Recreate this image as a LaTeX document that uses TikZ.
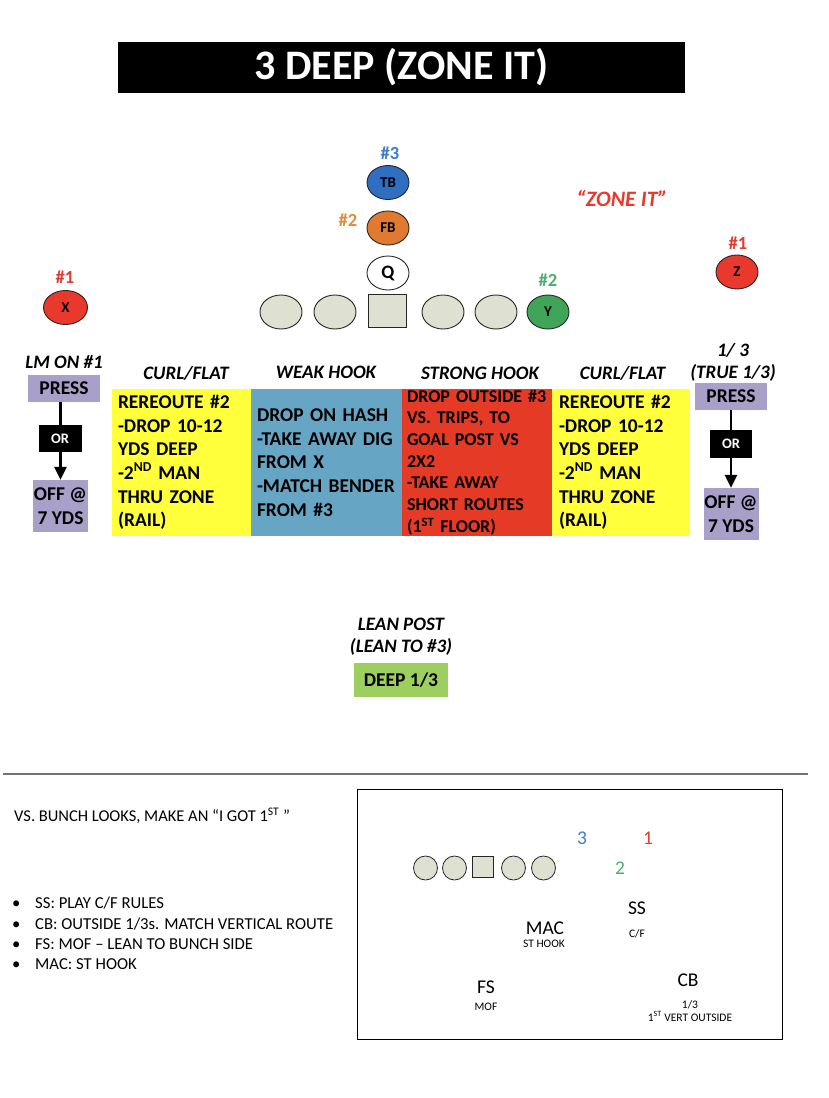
\documentclass[tikz,border=0pt]{standalone}
\usepackage{fontspec}
\setmainfont{Carlito}
\usetikzlibrary{shapes.geometric,arrows.meta}
\definecolor{linegray}{RGB}{222,224,210}
\definecolor{pred}{RGB}{232,57,44}
\definecolor{pblue}{RGB}{47,110,192}
\definecolor{porange}{RGB}{224,122,48}
\definecolor{pgreen}{RGB}{64,165,88}
\definecolor{lblblue}{RGB}{61,124,201}
\definecolor{lblorange}{RGB}{224,138,60}
\definecolor{lblgreen}{RGB}{76,175,106}
\definecolor{lblred}{RGB}{224,60,50}
\definecolor{zyellow}{RGB}{255,255,60}
\definecolor{zblue}{RGB}{102,166,196}
\definecolor{zred}{RGB}{229,58,38}
\definecolor{purplebg}{RGB}{168,160,200}
\definecolor{deepgreen}{RGB}{156,207,95}
\newcommand\myfs[2]{\fontsize{#1}{#2}\selectfont}
\begin{document}
\begin{tikzpicture}[x=1pt,y=-1pt,
  player/.style={ellipse, draw=black!85, line width=0.9pt, minimum width=42pt, minimum height=34pt, inner sep=0pt, font=\myfs{15}{17}\bfseries},
  lineman/.style={player, fill=linegray},
  csquare/.style={rectangle, draw=black!85, line width=0.9pt, fill=linegray, minimum width=38pt, minimum height=33pt, inner sep=0pt},
  numlbl/.style={font=\myfs{18.5}{21}\bfseries},
  heading/.style={font=\myfs{19}{22}\bfseries\itshape, align=center, inner sep=0pt},
  zone/.style={rectangle, inner ysep=0pt, minimum height=147pt, align=left, font=\myfs{19.5}{23.6}\bfseries},
  purplebox/.style={fill=purplebg, font=\myfs{19.5}{24}\bfseries, align=center, inner sep=0pt},
  orbox/.style={fill=black, text=white, font=\myfs{14.5}{16}\bfseries, inner sep=0pt},
  arr/.style={line width=2.5pt, -{Triangle[width=12pt,length=13pt]}},
  minip/.style={circle, draw=black!85, line width=0.8pt, fill=linegray, minimum size=24pt, inner sep=0pt},
  minisq/.style={rectangle, draw=black!85, line width=0.8pt, fill=linegray, minimum size=21pt, inner sep=0pt},
  bigl/.style={font=\myfs{19.5}{22}, inner sep=0pt},
  smalll/.style={font=\myfs{11.5}{12.5}, inner sep=0pt, align=center}
]
\useasboundingbox (0,0) rectangle (828,1098);

% title
\node[fill=black, text=white, minimum width=567pt, minimum height=51pt, inner sep=0pt, font=\myfs{42}{46}\bfseries] (title) at (401.5,67.5) {3 DEEP (ZONE IT)};

% backfield
\node[numlbl, text=lblblue] (n3) at (390,153) {\#3};
\node[player, fill=pblue] (tb) at (388,182.5) {TB};
\node[numlbl, text=lblorange] (n2o) at (348,220) {\#2};
\node[player, fill=porange] (fb) at (388,228) {FB};
\node[player, fill=white, font=\myfs{19}{21}\bfseries] (q) at (388,273) {Q};
\node[font=\myfs{22}{26}\bfseries\itshape, text=pred] (zoneit) at (622,198) {“ZONE IT”};

% line
\node[lineman] (l1) at (281,312) {};
\node[lineman] (l2) at (335,312) {};
\node[csquare] (c) at (387,311) {};
\node[lineman] (r1) at (443,312) {};
\node[lineman] (r2) at (496,312) {};
\node[player, fill=pgreen] (y) at (548,312) {Y};
\node[numlbl, text=lblgreen] (n2g) at (548,280) {\#2};

% receivers
\node[numlbl, text=lblred] (n1x) at (65,277) {\#1};
\node[player, fill=pred, minimum width=44pt] (x) at (65.5,307.5) {X};
\node[numlbl, text=lblred] (n1z) at (738,243) {\#1};
\node[player, fill=pred] (z) at (737,272) {Z};

% headings
\node[heading] (hlm) at (64,362) {LM ON \#1};
\node[heading] (hcf1) at (186,373) {CURL/FLAT};
\node[heading] (hwh) at (326,372) {WEAK HOOK};
\node[heading] (hsh) at (480,373) {STRONG HOOK};
\node[heading] (hcf2) at (622.5,373) {CURL/FLAT};
\node[heading] (hthird) at (733,362) {1/ 3\\(TRUE 1/3)};

% zones
\node[zone, fill=zyellow, inner xsep=6pt, text width=127pt] (zl) at (181.5,462.5)
  {REREOUTE \#2\\-DROP 10-12\\YDS DEEP\\-2\textsuperscript{ND} MAN\\THRU ZONE\\(RAIL)};
\node[zone, fill=zblue, inner xsep=6pt, text width=139pt] (zw) at (326.5,462.5)
  {DROP ON HASH\\-TAKE AWAY DIG\\FROM X\\-MATCH BENDER\\FROM \#3};
\node[zone, fill=zred, inner xsep=5pt, text width=140pt, font=\myfs{18}{21.7}\bfseries] (zs) at (477,462.5)
  {DROP OUTSIDE \#3\\VS. TRIPS, TO\\GOAL POST VS\\2X2\\-TAKE AWAY\\SHORT ROUTES\\(1\textsuperscript{ST} FLOOR)};
\node[zone, fill=zyellow, inner xsep=7pt, text width=124pt] (zr) at (621,462.5)
  {REREOUTE \#2\\-DROP 10-12\\YDS DEEP\\-2\textsuperscript{ND} MAN\\THRU ZONE\\(RAIL)};

% left press / off
\node[purplebox, minimum width=72pt, minimum height=27pt] (pressl) at (64,388.5) {PRESS};
\node[purplebox, minimum width=55pt, minimum height=52pt] (offl) at (60.5,506) {OFF @\\7 YDS};
\draw[arr] (offl.north |- pressl.south) -- (offl.north);
\node[orbox, minimum width=43pt, minimum height=27pt] (orl) at (60,438.5) {OR};

% right press / off
\node[purplebox, minimum width=72pt, minimum height=27pt] (pressr) at (731,396.5) {PRESS};
\node[purplebox, minimum width=55pt, minimum height=52pt] (offr) at (731,514) {OFF @\\7 YDS};
\draw[arr] (pressr.south) -- (offr.north);
\node[orbox, minimum width=42pt, minimum height=28pt] (orr) at (731,444) {OR};

% lean post
\node[heading] (lean) at (401,636.5) {LEAN POST\\(LEAN TO \#3)};
\node[fill=deepgreen, minimum width=94pt, minimum height=34pt, inner sep=0pt, font=\myfs{19.5}{22}\bfseries] (deep) at (401,680) {DEEP 1/3};

% separator
\coordinate (sepl) at (3,774);
\coordinate (sepr) at (808,774);
\draw[black!55, line width=1.6pt] (sepl) -- (sepr);

% bottom left text
\node[anchor=west, inner sep=0pt, font=\myfs{16.5}{19}] (bunch) at (14,816) {VS. BUNCH LOOKS, MAKE AN “I GOT 1\textsuperscript{ST} ”};
\node[anchor=west, inner sep=0pt, align=left, font=\myfs{16.7}{20.3}] (bullets) at (12,933.5)
  {\makebox[23pt][l]{\textbullet}SS: PLAY C/F RULES\\
   \makebox[23pt][l]{\textbullet}CB: OUTSIDE 1/3s. MATCH VERTICAL ROUTE\\
   \makebox[23pt][l]{\textbullet}FS: MOF – LEAN TO BUNCH SIDE\\
   \makebox[23pt][l]{\textbullet}MAC: ST HOOK};

% bottom right box
\node[draw=black, line width=1pt, minimum width=425pt, minimum height=250pt, inner sep=0pt] (bbox) at (569.5,914) {};
\node[minip] (m1) at (425.5,868) {};
\node[minip] (m2) at (454.5,868) {};
\node[minisq] (mc) at (483,867) {};
\node[minip] (m4) at (513.5,868) {};
\node[minip] (m5) at (543.5,868) {};
\node[bigl, text=lblblue] (b3) at (582,838) {3};
\node[bigl, text=lblred] (b1) at (648,838) {1};
\node[bigl, text=lblgreen] (b2) at (620,868) {2};
\node[bigl] (ss) at (637,908) {SS};
\node[smalll] (sst) at (637,934) {C/F};
\node[bigl] (mac) at (545,928) {MAC};
\node[smalll] (mact) at (544,944) {ST HOOK};
\node[bigl] (fs) at (486,987) {FS};
\node[smalll] (fst) at (486,1007) {MOF};
\node[bigl] (cb) at (688,980) {CB};
\node[smalll] (cbt) at (690,1011) {1/3\\1\textsuperscript{ST} VERT OUTSIDE};
\end{tikzpicture}
\end{document}
